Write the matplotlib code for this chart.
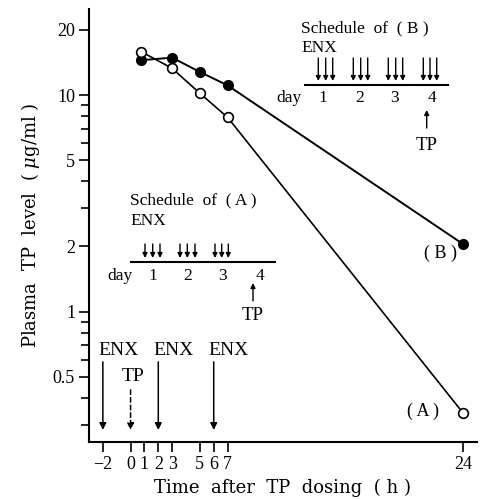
import matplotlib
matplotlib.use("Agg")
import matplotlib.pyplot as plt
from matplotlib.ticker import FixedLocator, NullFormatter

plt.rcParams['font.family'] = ['Liberation Serif', 'DejaVu Serif']
plt.rcParams['mathtext.fontset'] = 'dejavuserif'

# ---- data ----
time_h = [0.75, 3, 5, 7, 24]
series_A = [15.9, 13.3, 10.2, 7.9, 0.34]   # open circles
series_B = [14.5, 14.9, 12.8, 11.1, 2.05]  # filled circles

x_ticks = [-2, 0, 1, 2, 3, 5, 6, 7, 24]
x_ticklabels = ['\u22122', '0', '1', '2', '3', '5', '6', '7', '24']
y_ticks = [0.5, 1, 2, 5, 10, 20]
y_ticklabels = ['0.5', '1', '2', '5', '10', '20']
y_minor = [0.3, 0.4, 0.6, 0.7, 0.8, 0.9, 3, 4, 6, 7, 8, 9]

enx_times = [-2, 2, 6]
tp_time = 0

W, H = 485, 500
fig = plt.figure(figsize=(W / 100, H / 100), dpi=100)
ax = fig.add_axes([89 / W, 1 - 442 / H, 388 / W, 433 / H])

ax.set_yscale('log')
ax.set_xlim(-3, 25)
ax.set_ylim(0.25, 25)

ax.plot(time_h, series_B, '-', color='black', lw=1.4, marker='o', ms=7,
        mfc='black', mec='black', zorder=3)
ax.plot(time_h, series_A, '-', color='black', lw=1.2, marker='o', ms=7,
        mfc='white', mec='black', mew=1.2, zorder=4)

for s in ['top', 'right']:
    ax.spines[s].set_visible(False)
for s in ['left', 'bottom']:
    ax.spines[s].set_linewidth(1.5)

ax.xaxis.set_major_locator(FixedLocator(x_ticks))
ax.set_xticklabels(x_ticklabels)
ax.yaxis.set_major_locator(FixedLocator(y_ticks))
ax.set_yticklabels(y_ticklabels)
ax.yaxis.set_minor_locator(FixedLocator(y_minor))
ax.yaxis.set_minor_formatter(NullFormatter())
ax.tick_params(axis='both', which='major', direction='out', length=7,
               width=1.2, labelsize=13, pad=3)
ax.tick_params(axis='y', which='minor', direction='out', length=6, width=1.2)

ax.set_xlabel('Time  after  TP  dosing  ( h )', fontsize=13, labelpad=4,
              family='DejaVu Serif')
ax.set_ylabel('Plasma  TP  level  ( $\\mu$g/ml )', fontsize=13, labelpad=8,
              family='DejaVu Serif')

# ---- main-axis dosing arrows ----
tip_y, start_y = 0.284, 0.586
for t in enx_times:
    ax.annotate('', xy=(t, tip_y), xytext=(t, start_y),
                arrowprops=dict(arrowstyle='-|>', color='black', lw=1.1,
                                mutation_scale=10, shrinkA=0, shrinkB=0))
    ax.text(t - 0.35, 0.665, 'ENX', fontsize=14, ha='left', va='center')
ax.annotate('', xy=(tp_time, tip_y), xytext=(tp_time, 0.435),
            arrowprops=dict(arrowstyle='-|>', color='black', lw=1.1,
                            linestyle=(0, (3, 2)), mutation_scale=10,
                            shrinkA=0, shrinkB=0))
ax.text(tp_time + 0.2, 0.50, 'TP', fontsize=14, ha='center', va='center')

ax.text(22.4, 1.85, '( B )', fontsize=13, ha='center', va='center')
ax.text(21.1, 0.345, '( A )', fontsize=13, ha='center', va='center')

# ---- schedule insets (figure pixel coords) ----
def P(px, py):
    return (px / W, 1 - py / H)

def ftext(px, py, s, **kw):
    fig.text(*P(px, py), s, fontsize=kw.pop('fontsize', 12.5), va='center', **kw)

def farrow(px, y0, y1, lw=1.0):
    fig.add_artist(matplotlib.patches.FancyArrowPatch(
        P(px, y0), P(px, y1), transform=fig.transFigure,
        arrowstyle='-|>', mutation_scale=7, color='black', lw=lw,
        shrinkA=0, shrinkB=0))

def fline(x0, x1, y, lw=1.5):
    fig.add_artist(matplotlib.lines.Line2D(
        [x0 / W, x1 / W], [1 - y / H, 1 - y / H], transform=fig.transFigure,
        color='black', lw=lw))

# Schedule A
ftext(130, 200, 'Schedule  of  ( A )', ha='left')
ftext(130, 221, 'ENX', ha='left')
for grp in [(145, 152.7, 160), (180, 187.3, 195), (215, 221.7, 228.3)]:
    for x in grp:
        farrow(x, 244, 258)
fline(131.5, 275, 262)
ftext(120, 276, 'day', ha='center')
for x, lab in zip([153, 188, 223, 260], ['1', '2', '3', '4']):
    ftext(x, 276, lab, ha='center')
farrow(253, 301, 283)
ftext(253, 315, 'TP', ha='center', fontsize=13.5)

# Schedule B
ftext(301, 28, 'Schedule  of  ( B )', ha='left')
ftext(301, 48, 'ENX', ha='left')
for grp in [(318.3, 325.7, 332.7), (353.3, 360.7, 367.7),
            (388.3, 395.7, 402.7), (423.3, 430, 436.7)]:
    for x in grp:
        farrow(x, 58, 81)
fline(305, 448, 85)
ftext(289, 98, 'day', ha='center')
for x, lab in zip([323.3, 360, 395, 431.7], ['1', '2', '3', '4']):
    ftext(x, 98, lab, ha='center')
farrow(426.7, 128, 110)
ftext(426.7, 145, 'TP', ha='center', fontsize=13.5)

fig.savefig('out.png', dpi=100)
